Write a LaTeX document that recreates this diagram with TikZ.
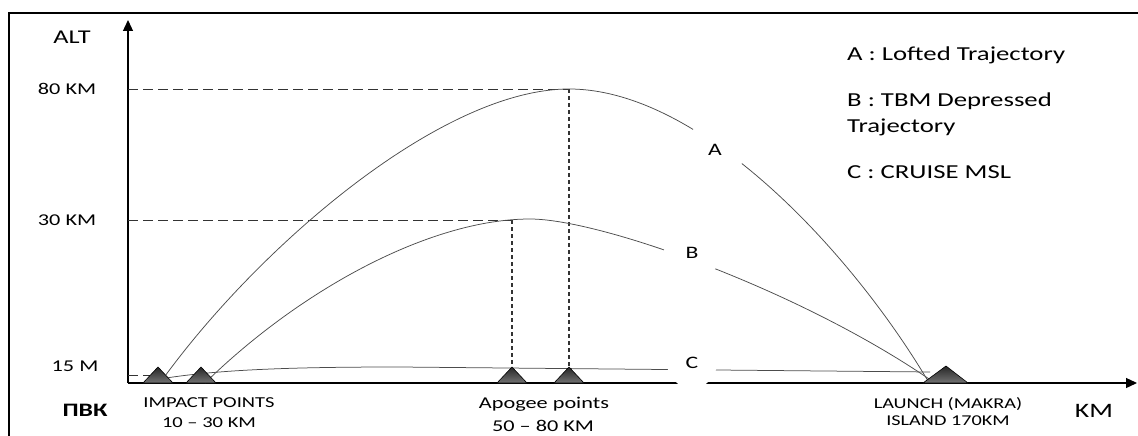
\documentclass[tikz,border=0pt]{standalone}
\usepackage{fontspec}
\setmainfont{Carlito}[FakeStretch=1.35]
\usetikzlibrary{arrows.meta}
\tikzset{
  frameline/.style={line width=1.2pt, black},
  axisline/.style={line width=1.3pt, black, -{Triangle[length=11pt,width=10pt]}},
  traj/.style={line width=0.75pt, black!70},
  hdash/.style={line width=0.8pt, black!80, dash pattern=on 10pt off 5pt},
  vdash/.style={line width=1.2pt, black!80, dash pattern=on 4pt off 3pt},
  tri/.style={top color=black!85, bottom color=black!55, draw=black, line width=0.6pt},
  lbl/.style={inner sep=0pt, font=\fontsize{16.5}{18}\selectfont},
  leg/.style={inner sep=0pt, anchor=west, font=\fontsize{19.8}{22}\selectfont},
  bot/.style={inner sep=0pt, font=\fontsize{15.2}{17}\selectfont},
  cutlbl/.style={circle, fill=white, inner sep=0pt, font=\fontsize{17.5}{19}\selectfont},
}
\begin{document}
\begin{tikzpicture}[x=1pt,y=-1pt]
\useasboundingbox (0,0) rectangle (1138,436);
% frame
\coordinate (fbl) at (9,436);
\coordinate (ftl) at (9,13);
\coordinate (ftr) at (1138,13);
\draw[frameline] (fbl) -- (ftl) -- (ftr);
% axes
\coordinate (o) at (128,383);
\coordinate (ytop) at (128,20);
\coordinate (xend) at (1137,383);
\draw[axisline] (o) -- (ytop);
\draw[axisline] (o) -- (xend);
% apex points
\coordinate (apA) at (569,89);
\coordinate (apB) at (530,219);
\coordinate (yA) at (128,89);
\coordinate (yB) at (128,220);
\coordinate (dA) at (569,89);
\coordinate (dB) at (512,220);
\coordinate (dAb) at (569,367);
\coordinate (dBb) at (512,367);
\coordinate (y15) at (128,375);
\coordinate (y15e) at (150,375);
% dashed guides
\draw[hdash] (yA) -- (dA);
\draw[hdash] (yB) -- (dB);
\draw[hdash] (y15) -- (y15e);
\draw[vdash] (dA) -- (dAb);
\draw[vdash] (dB) -- (dBb);
% trajectories
\coordinate (sA) at (160,383);
\coordinate (sB) at (205,383);
\coordinate (sC) at (160,379);
\coordinate (eA) at (928,381);
\coordinate (eB) at (932,381);
\coordinate (eC) at (930,372);
\draw[traj] (sA) .. controls (255,250) and (440,89) .. (apA)
            .. controls (700,89) and (850,250) .. (eA);
\draw[traj] (sB) .. controls (300,290) and (430,219) .. (apB)
            .. controls (600,219) and (800,290) .. (eB);
\draw[traj] (sC) .. controls (220,369) and (300,367) .. (400,367) -- (eC);
% cut labels
\node[cutlbl, minimum size=60pt] (lA) at (715,150) {A};
\node[cutlbl, minimum size=56pt] (lB) at (692,253) {B};
\node[cutlbl, minimum size=50pt] (lC) at (692,363) {C};
% triangles
\foreach \x in {158,201,512,569}
  \shade[tri] (\x-15,383) -- (\x,367) -- (\x+15,383) -- cycle;
\shade[tri] (923,383) -- (946,366) -- (968,383) -- cycle;
% axis labels
\node[inner sep=0pt, font=\fontsize{19.5}{22}\selectfont] (alt) at (72,37) {ALT};
\node[lbl] (l80) at (67,89) {80 KM};
\node[lbl] (l30) at (67,220) {30 KM};
\node[lbl] (l15) at (75,366) {15 M};
\node[inner sep=0pt, font=\fontsize{19}{22}\selectfont\bfseries] (pvk) at (85,410) {ПВК};
\node[inner sep=0pt, font=\fontsize{20.5}{22}\selectfont] (km) at (1094,411) {KM};
% bottom labels
\node[bot] (imp1) at (209,403) {IMPACT POINTS};
\node[bot] (imp2) at (209,423) {10 – 30 KM};
\node[bot, font=\fontsize{16.5}{18}\selectfont] (apo1) at (544,404) {Apogee points};
\node[bot, font=\fontsize{16.5}{18}\selectfont] (apo2) at (543,426) {50 – 80 KM};
\node[bot, font=\fontsize{15}{17}\selectfont] (lau1) at (948,404) {LAUNCH (MAKRA)};
\node[bot, font=\fontsize{15}{17}\selectfont] (lau2) at (948,421) {ISLAND 170KM};
% legend
\node[leg] (legA) at (847,55) {A : Lofted Trajectory};
\node[leg] (legB1) at (847,101) {B : TBM Depressed};
\node[leg] (legB2) at (847,127) {Trajectory};
\node[leg] (legC) at (847,172) {C : CRUISE MSL};
\end{tikzpicture}
\end{document}
